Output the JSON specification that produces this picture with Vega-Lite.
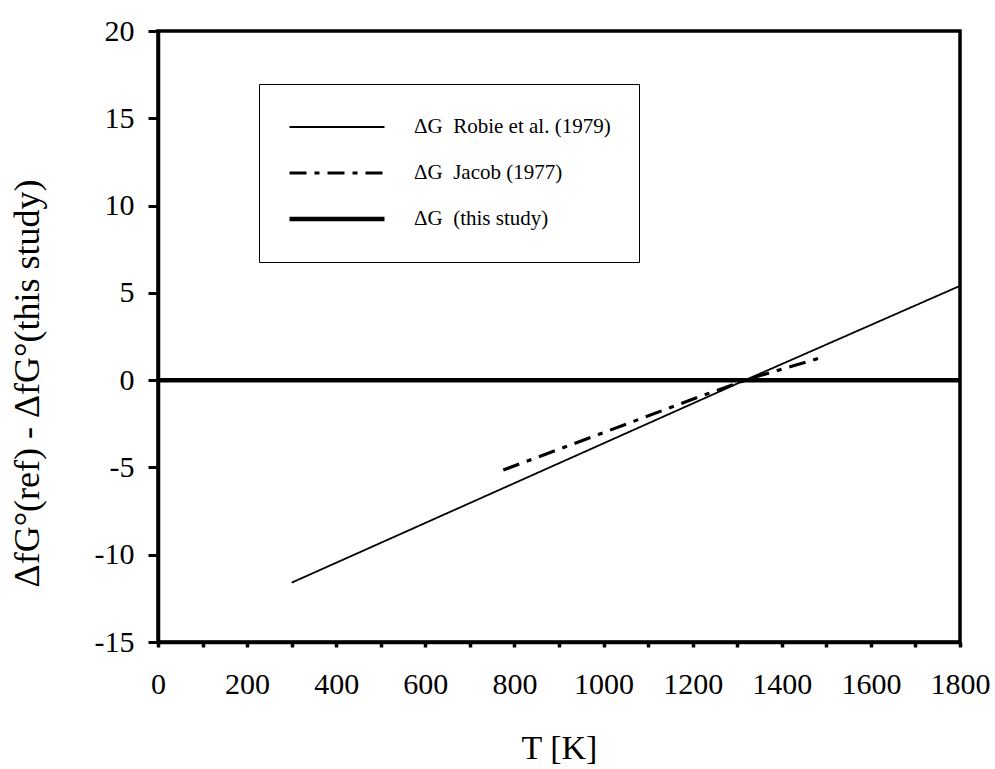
{
  "$schema": "https://vega.github.io/schema/vega-lite/v6.json",
  "autosize": "none",
  "width": 802,
  "height": 611,
  "padding": {"left": 158, "top": 31, "right": 35, "bottom": 127},
  "background": "white",
  "config": {
    "font": "serif",
    "view": {"stroke": "black", "strokeWidth": 3.5},
    "axis": {"grid": false, "domainColor": "black", "domainWidth": 3.5, "tickColor": "black", "labelColor": "black", "titleColor": "black", "titleFontWeight": "normal", "labelFont": "serif", "titleFont": "serif"}
  },
  "data": {
    "values": [
      {"series": "ΔG\u00a0 Robie et al. (1979)", "T": 300, "dG": -11.6},
      {"series": "ΔG\u00a0 Robie et al. (1979)", "T": 800, "dG": -5.9},
      {"series": "ΔG\u00a0 Robie et al. (1979)", "T": 1300, "dG": -0.2},
      {"series": "ΔG\u00a0 Robie et al. (1979)", "T": 1800, "dG": 5.4},
      {"series": "ΔG\u00a0 Jacob (1977)", "T": 775, "dG": -5.15},
      {"series": "ΔG\u00a0 Jacob (1977)", "T": 990, "dG": -3.1},
      {"series": "ΔG\u00a0 Jacob (1977)", "T": 1215, "dG": -0.95},
      {"series": "ΔG\u00a0 Jacob (1977)", "T": 1330, "dG": 0.1},
      {"series": "ΔG\u00a0 Jacob (1977)", "T": 1490, "dG": 1.3},
      {"series": "ΔG\u00a0 (this study)", "T": 0, "dG": 0},
      {"series": "ΔG\u00a0 (this study)", "T": 1800, "dG": 0}
    ]
  },
  "mark": {"type": "line", "color": "black", "clip": true},
  "encoding": {
    "x": {"field": "T", "type": "quantitative", "scale": {"domain": [0, 1800], "nice": false, "zero": false},
      "axis": {
        "values": [0,100,200,300,400,500,600,700,800,900,1000,1100,1200,1300,1400,1500,1600,1700,1800],
        "labelExpr": "datum.value % 200 === 0 ? datum.label : ''", "labelOverlap": false, "format": "d",
        "tickSize": 5, "tickWidth": 3.5, "labelFontSize": 30, "labelPadding": 22, "labelFlush": false,
        "title": "T [K]", "titleFontSize": 34, "titleBaseline": "alphabetic", "titleY": 116}},
    "y": {"field": "dG", "type": "quantitative", "scale": {"domain": [-15, 20], "nice": false, "zero": false},
      "axis": {
        "values": [-15,-10,-5,0,5,10,15,20], "labelExpr": "replace(datum.label, '\u2212', '-')",
        "tickSize": 10, "tickWidth": 3, "labelFontSize": 30, "labelPadding": 14,
        "title": "ΔfG°(ref) - ΔfG°(this study)", "titleFontSize": 36, "titleAngle": -90, "titleBaseline": "alphabetic",
        "titleAlign": "center", "titleX": -120, "titleY": 352}},
    "strokeDash": {
      "field": "series", "type": "nominal",
      "scale": {
        "domain": ["ΔG\u00a0 Robie et al. (1979)", "ΔG\u00a0 Jacob (1977)", "ΔG\u00a0 (this study)"],
        "range": [[1, 0], [17, 8, 5, 8], [1, 0]]
      },
      "legend": {
        "title": null, "orient": "none", "legendX": 101, "legendY": 53,
        "symbolType": "stroke", "symbolSize": 9025, "clipHeight": 30,
        "symbolStrokeColor": "black", "labelFont": "serif", "labelFontSize": 21, "labelColor": "black", "labelLimit": 0,
        "labelOffset": 27, "rowPadding": 16, "padding": 28,
        "strokeColor": "black", "fillColor": "white"
      }
    },
    "strokeWidth": {
      "field": "series", "type": "nominal",
      "scale": {
        "domain": ["ΔG\u00a0 Robie et al. (1979)", "ΔG\u00a0 Jacob (1977)", "ΔG\u00a0 (this study)"],
        "range": [1.8, 4.5, 6.5]
      }
    }
  }
}
